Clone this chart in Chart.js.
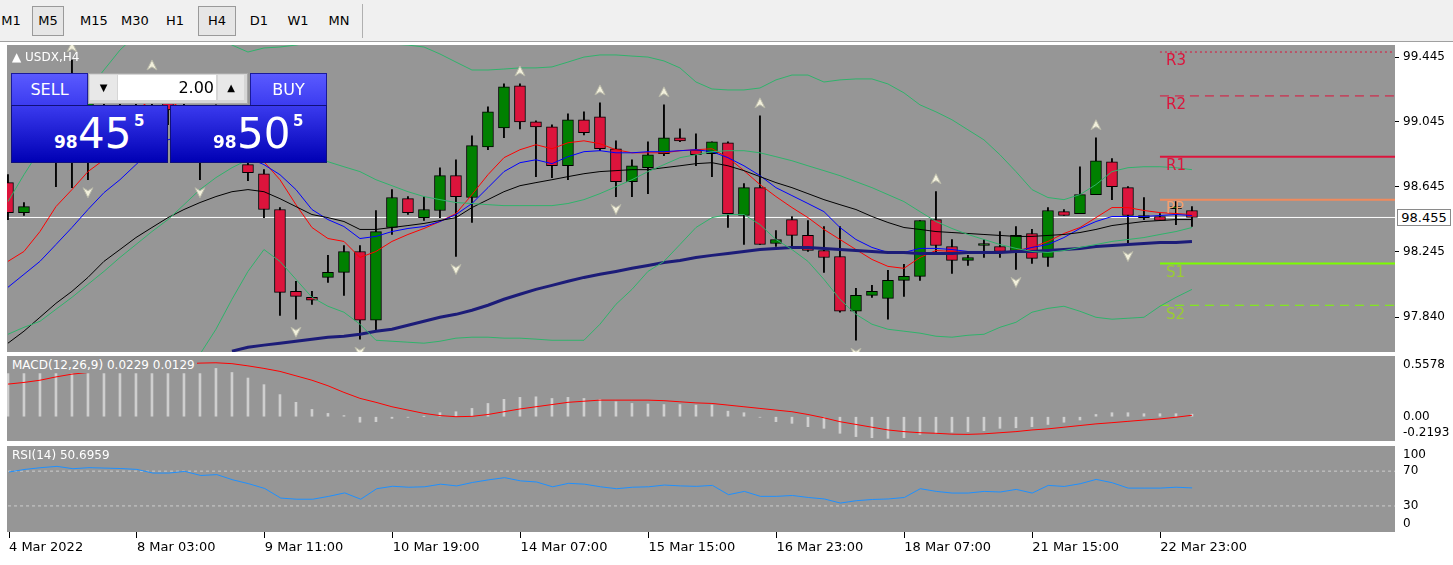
<!DOCTYPE html>
<html><head><meta charset="utf-8">
<script src="https://cdn.jsdelivr.net/npm/chart.js@4.4.1/dist/chart.umd.min.js"></script>
<style>
body{margin:0;width:1453px;height:565px;background:#fff;overflow:hidden;font-family:"DejaVu Sans",sans-serif;position:relative}
.abs{position:absolute}
.tb{position:absolute;top:0;left:0;width:1453px;height:41px;background:#f0f0f0;border-bottom:1px solid #a0a0a0}
.btn{position:absolute;top:9px;height:24px;line-height:24px;font-size:13px;color:#000;text-align:center}
.pressed{border:1px solid #9a9a9a;background:#e6e6e6;top:6px;height:28px;line-height:28px}
.panel{position:absolute;left:7px;width:1388px;background:#969696}
.lbl{position:absolute;color:#fff;font-size:12px;white-space:nowrap}
.blue1{position:absolute;background:linear-gradient(#5a5aff,#3c3cf0);color:#fff;font-size:16px;text-align:center;border:1px solid #1a1a9a}
.blue2{position:absolute;background:linear-gradient(#3a3aee,#0000b4);color:#fff;border:1px solid #10107a}
canvas{position:absolute}
</style></head>
<body>
<div class="tb">
 <div class="btn" style="left:0;width:22px">M1</div>
 <div class="btn pressed" style="left:32px;width:30px">M5</div>
 <div class="btn" style="left:76px;width:36px">M15</div>
 <div class="btn" style="left:116px;width:38px">M30</div>
 <div class="btn" style="left:162px;width:26px">H1</div>
 <div class="btn pressed" style="left:198px;width:36px">H4</div>
 <div class="btn" style="left:246px;width:26px">D1</div>
 <div class="btn" style="left:284px;width:28px">W1</div>
 <div class="btn" style="left:324px;width:30px">MN</div>
 <div class="abs" style="left:362px;top:4px;width:1px;height:34px;background:#b0b0b0"></div>
</div>
<div class="panel" style="top:45px;height:307px"></div>
<div class="panel" style="top:356px;height:85px"></div>
<div class="panel" style="top:446px;height:86px"></div>
<canvas id="cMain" width="1446" height="307" style="left:7px;top:45px"></canvas>
<canvas id="cMacd" width="1446" height="86" style="left:7px;top:355px"></canvas>
<canvas id="cRsi" width="1446" height="115" style="left:7px;top:445px"></canvas>

<div class="lbl" style="left:12px;top:50px">&#9650; USDX,H4</div>
<div class="lbl" style="left:10px;top:357px;background:#969696;padding:0 2px;height:16px;line-height:16px">MACD(12,26,9) 0.0229 0.0129</div>
<div class="lbl" style="left:10px;top:447px;padding:0 2px;height:16px;line-height:16px">RSI(14) 50.6959</div>
<div class="abs" style="left:1397px;top:209px;width:52px;height:15px;border:1px solid #8a8a8a;background:#fff;font-size:13px;line-height:15px;text-align:center">98.455</div>

<!-- trade widget -->
<div class="blue1" style="left:11px;top:73px;width:75px;height:31px;line-height:31px">SELL</div>
<div class="abs" style="left:88px;top:73px;width:158px;height:29px;background:#d6d6d6;border:1px solid #a8a8a8"></div>
<div class="abs" style="left:90px;top:75px;width:27px;height:25px;background:#e8e8e8;font-size:10px;text-align:center;line-height:25px">&#9660;</div>
<div class="abs" style="left:118px;top:75px;width:96px;height:25px;background:#fff;font-size:16px;line-height:25px;text-align:right;padding-right:2px">2.00</div>
<div class="abs" style="left:218px;top:75px;width:26px;height:25px;background:#e8e8e8;font-size:10px;text-align:center;line-height:25px">&#9650;</div>
<div class="blue1" style="left:250px;top:73px;width:75px;height:31px;line-height:31px">BUY</div>
<div class="blue2" style="left:11px;top:105px;width:155px;height:56px">
 <span class="abs" style="left:42px;top:26px;font-size:17px;font-weight:bold">98</span>
 <span class="abs" style="left:66px;top:3px;font-size:42px">45</span>
 <span class="abs" style="left:122px;top:6px;font-size:15px;font-weight:bold">5</span>
</div>
<div class="blue2" style="left:170px;top:105px;width:155px;height:56px">
 <span class="abs" style="left:42px;top:26px;font-size:17px;font-weight:bold">98</span>
 <span class="abs" style="left:66px;top:3px;font-size:42px">50</span>
 <span class="abs" style="left:122px;top:6px;font-size:15px;font-weight:bold">5</span>
</div>

<script>
// ---------- DATA ----------
const opens  = [98.670,98.485,98.873,99.058,99.119,99.027,99.181,99.242,99.181,99.230,99.211,99.119,98.996,99.058,98.934,98.781,98.725,98.504,97.999,97.962,98.085,98.116,98.245,97.821,98.393,98.571,98.454,98.498,98.713,98.578,98.891,99.008,99.267,99.045,99.014,98.774,99.058,99.076,98.879,98.676,98.762,98.848,98.947,98.873,98.848,98.916,98.467,98.639,98.294,98.442,98.344,98.251,98.214,97.876,97.974,97.956,98.067,98.091,98.442,98.276,98.190,98.282,98.276,98.245,98.356,98.208,98.491,98.479,98.596,98.799,98.639,98.454,98.461,98.510,98.498];
const highs  = [98.719,98.547,99.027,99.150,99.427,99.211,99.273,99.304,99.273,99.316,99.254,99.181,99.119,99.150,99.058,98.811,98.750,98.516,98.061,97.999,98.221,98.282,98.282,98.498,98.627,98.584,98.584,98.762,98.811,98.959,99.138,99.279,99.279,99.051,99.027,99.094,99.107,99.162,98.928,98.811,98.922,99.150,99.002,98.971,98.922,98.922,98.664,99.082,98.374,98.461,98.436,98.399,98.399,98.017,98.036,98.128,98.165,98.436,98.614,98.319,98.221,98.319,98.368,98.399,98.381,98.516,98.504,98.768,98.947,98.818,98.645,98.578,98.479,98.553,98.522];
const lows   = [98.442,98.467,98.811,98.645,98.639,98.688,99.058,99.119,99.058,99.119,99.027,98.934,98.688,98.873,98.824,98.682,98.454,97.851,97.827,97.919,98.054,97.974,97.704,97.759,98.350,98.473,98.436,98.454,98.214,98.424,98.873,98.947,99.002,98.707,98.701,98.688,98.965,98.867,98.584,98.584,98.602,98.836,98.922,98.774,98.707,98.393,98.288,98.288,98.276,98.276,98.245,98.116,97.870,97.697,97.962,97.827,97.968,98.067,98.239,98.110,98.159,98.208,98.208,98.134,98.171,98.153,98.467,98.479,98.596,98.565,98.294,98.442,98.436,98.411,98.399];
const closes = [98.485,98.522,99.058,99.119,99.027,99.181,99.242,99.181,99.230,99.211,99.119,98.996,99.058,98.934,98.873,98.731,98.504,97.993,97.968,97.944,98.116,98.245,97.821,98.368,98.578,98.485,98.504,98.713,98.584,98.898,99.107,99.261,99.045,99.014,98.774,99.058,98.978,98.879,98.676,98.774,98.842,98.947,98.928,98.842,98.922,98.479,98.639,98.288,98.319,98.344,98.251,98.208,97.876,97.974,97.999,98.067,98.091,98.436,98.282,98.190,98.208,98.283,98.245,98.344,98.202,98.498,98.467,98.596,98.805,98.645,98.467,98.467,98.436,98.522,98.455];

const maFast = [98.184,98.245,98.368,98.522,98.627,98.738,98.811,98.934,99.119,99.181,99.181,99.119,99.027,98.965,98.904,98.842,98.799,98.688,98.534,98.393,98.325,98.307,98.208,98.245,98.307,98.350,98.387,98.430,98.479,98.596,98.719,98.824,98.873,98.904,98.879,98.916,98.928,98.910,98.873,98.854,98.854,98.854,98.867,98.873,98.879,98.824,98.744,98.658,98.584,98.516,98.454,98.381,98.319,98.257,98.196,98.153,98.141,98.208,98.251,98.245,98.239,98.239,98.239,98.251,98.270,98.307,98.356,98.393,98.454,98.516,98.516,98.498,98.485,98.479,98.473];
const maMid  = [98.024,98.104,98.184,98.288,98.393,98.504,98.608,98.688,98.781,98.873,98.934,98.965,98.965,98.934,98.885,98.824,98.781,98.719,98.627,98.504,98.442,98.399,98.325,98.338,98.368,98.387,98.399,98.430,98.473,98.541,98.639,98.738,98.793,98.811,98.787,98.830,98.861,98.867,98.854,98.854,98.861,98.861,98.867,98.873,98.861,98.824,98.774,98.713,98.639,98.590,98.541,98.491,98.393,98.319,98.270,98.239,98.239,98.264,98.264,98.257,98.245,98.245,98.245,98.245,98.270,98.288,98.331,98.387,98.430,98.461,98.461,98.461,98.467,98.473,98.467];
const maSlow = [97.679,97.753,97.839,97.925,97.999,98.085,98.184,98.257,98.331,98.393,98.454,98.504,98.547,98.584,98.614,98.627,98.614,98.571,98.522,98.473,98.454,98.430,98.381,98.381,98.393,98.405,98.418,98.436,98.454,98.516,98.565,98.614,98.651,98.670,98.688,98.707,98.725,98.738,98.744,98.750,98.750,98.762,98.774,98.787,98.793,98.774,98.744,98.707,98.670,98.639,98.602,98.565,98.534,98.504,98.461,98.424,98.393,98.381,98.368,98.362,98.356,98.350,98.344,98.338,98.338,98.344,98.350,98.362,98.381,98.405,98.418,98.430,98.436,98.442,98.442];
const maLong = [null,null,null,null,null,null,null,null,null,null,null,null,null,null,97.630,97.654,97.667,97.679,97.691,97.704,97.716,97.722,97.734,97.753,97.765,97.790,97.814,97.839,97.857,97.882,97.913,97.950,97.981,98.011,98.036,98.061,98.085,98.104,98.122,98.141,98.159,98.177,98.190,98.208,98.221,98.233,98.245,98.257,98.264,98.270,98.270,98.264,98.257,98.251,98.245,98.239,98.239,98.233,98.233,98.233,98.239,98.239,98.239,98.245,98.245,98.251,98.257,98.264,98.276,98.282,98.288,98.294,98.301,98.301,98.307];
const bbUpper = [98.553,98.719,98.873,98.996,99.107,99.242,99.365,99.488,99.581,99.642,99.673,99.673,99.642,99.581,99.519,99.476,99.501,99.507,99.519,99.538,99.562,99.574,99.550,99.531,99.525,99.519,99.507,99.464,99.414,99.365,99.365,99.371,99.378,99.378,99.384,99.414,99.445,99.458,99.458,99.451,99.445,99.421,99.378,99.291,99.248,99.242,99.242,99.254,99.304,99.334,99.334,99.291,99.304,99.310,99.310,99.279,99.224,99.150,99.107,99.058,98.996,98.934,98.842,98.738,98.627,98.578,98.565,98.596,98.658,98.738,98.762,98.768,98.768,98.762,98.750];
const bbMiddle = [97.734,97.777,97.814,97.888,97.962,98.042,98.122,98.208,98.288,98.368,98.442,98.534,98.627,98.701,98.762,98.811,98.842,98.861,98.861,98.836,98.799,98.768,98.738,98.688,98.651,98.614,98.584,98.565,98.547,98.541,98.534,98.528,98.528,98.528,98.528,98.541,98.565,98.602,98.645,98.688,98.738,98.781,98.824,98.842,98.861,98.867,98.867,98.854,98.830,98.805,98.774,98.744,98.713,98.676,98.639,98.596,98.553,98.491,98.430,98.387,98.350,98.319,98.288,98.264,98.245,98.239,98.251,98.270,98.288,98.307,98.319,98.331,98.350,98.368,98.393];
const bbLower = [null,null,null,null,null,null,null,null,null,null,97.334,97.457,97.611,97.765,97.950,98.122,98.257,98.184,98.073,97.962,97.907,97.870,97.796,97.697,97.691,97.685,97.679,97.691,97.710,97.716,97.716,97.710,97.710,97.704,97.697,97.697,97.697,97.796,97.919,98.011,98.122,98.184,98.288,98.393,98.454,98.473,98.473,98.411,98.319,98.257,98.184,98.073,97.950,97.857,97.796,97.765,97.753,97.741,97.722,97.716,97.728,97.734,97.777,97.808,97.870,97.894,97.907,97.876,97.839,97.827,97.833,97.839,97.907,97.962,98.011];

const fractalUp = [4,9,32,37,41,47,58,68];
const fractalDown = [5,12,18,22,28,38,53,63,70];

const pivotNames  = ['R3','R2','R1','PP','S1','S2'];
const pivotValues = [99.476,99.205,98.830,98.565,98.171,97.913];
const pivotStart = 72;
const lastPrice = 98.455;

const macdMain = [0.39,0.39,0.39,0.39,0.39,0.39,0.39,0.39,0.39,0.39,0.39,0.39,0.39,0.437,0.40,0.35,0.29,0.20,0.13,0.066,0.03,0.01,-0.05,-0.045,-0.015,-0.005,0.002,0.036,0.045,0.075,0.12,0.157,0.175,0.18,0.165,0.175,0.165,0.157,0.135,0.12,0.115,0.11,0.11,0.105,0.105,0.05,0.036,-0.005,-0.045,-0.06,-0.09,-0.105,-0.15,-0.18,-0.19,-0.196,-0.19,-0.16,-0.15,-0.14,-0.135,-0.126,-0.105,-0.1,-0.09,-0.07,-0.05,-0.03,0.02,0.036,0.036,0.027,0.027,0.027,0.023];
const macdSignal = [0.295,0.31,0.33,0.36,0.385,0.40,0.42,0.435,0.45,0.46,0.47,0.478,0.485,0.488,0.48,0.46,0.437,0.41,0.37,0.33,0.28,0.22,0.166,0.13,0.09,0.06,0.03,0.01,0.0,0.003,0.02,0.045,0.07,0.09,0.11,0.13,0.14,0.15,0.15,0.15,0.15,0.145,0.135,0.125,0.12,0.105,0.09,0.075,0.06,0.045,0.02,-0.01,-0.045,-0.07,-0.095,-0.12,-0.135,-0.145,-0.15,-0.158,-0.16,-0.155,-0.145,-0.135,-0.12,-0.11,-0.095,-0.08,-0.065,-0.054,-0.042,-0.03,-0.02,-0.005,0.013];
const macdRange = [-0.2193, 0.5578];
const macdTickVals = [0.467, 0.0, -0.147];
const macdTickLabels = ['0.5578','0.00','-0.2193'];

const rsi = [69,72,74,75.5,72.8,74,73.5,73,72,67.8,67.8,69.7,65,66,60,55.5,50,39,37.7,37.7,41,45,37.7,49.8,52.6,51.5,52,55,53,57,60,62.5,58.8,57.5,52,56,55,52,49.8,51.5,52,54,53,52.5,53.6,42.9,46.7,41,41,42,39.7,38,33.3,36,37.4,38,39.7,49.8,46.7,44.8,44.8,46.7,46,49,44.8,53.6,52.4,55.5,60.5,56.7,50.5,50.5,50.5,51.5,50.7];
const rsiLevels = [70, 30];
const rsiTickVals = [88.5, 70, 30, 9];
const rsiTickLabels = ['100','70','30','0'];

const priceTicks = [99.445, 99.045, 98.645, 98.245, 97.840];
const timeTickIdx = [0,8,16,24,32,40,48,56,64,72];
const timeLabels = ['4 Mar 2022','8 Mar 03:00','9 Mar 11:00','10 Mar 19:00','14 Mar 07:00','15 Mar 15:00','16 Mar 23:00','18 Mar 07:00','21 Mar 15:00','22 Mar 23:00'];

// ---------- CHARTS ----------
const XMIN = -0.06, XMAX = 86.69;
const FONT = {family:'DejaVu Sans', size:12, lineHeight:0.01};
const ser = a => a.map((v,i)=>({x:i,y:v}));
const line = (a,c,w,extra) => Object.assign({type:'line',data:ser(a),borderColor:c,borderWidth:w,pointRadius:0,pointHoverRadius:0,tension:0,order:0,spanGaps:false},extra||{});
const yRight = (extra) => Object.assign({position:'right',afterFit:s=>{s.width=58;},
  border:{display:false},
  grid:{drawOnChartArea:false,tickLength:4,color:'#000'},
  ticks:{color:'#000',font:FONT,padding:4}},extra);
const xHidden = {type:'linear',min:XMIN,max:XMAX,display:false,offset:false};
const LAYOUT = {padding:0, autoPadding:false};
const BASE = {responsive:false,maintainAspectRatio:false,animation:false,devicePixelRatio:1,events:[],layout:LAYOUT,
  plugins:{legend:{display:false},tooltip:{enabled:false}}};

// place a chart so that its plot area covers exactly the given panel rectangle
function fitPanel(ch, top, h){
  for(let k=0;k<3;k++){
    const extra = ch.height - ch.chartArea.height;
    ch.resize(1446, Math.round(h + extra));
  }
  ch.canvas.style.top = (top - Math.round(ch.chartArea.top)) + 'px';
}

const idx = opens.map((_,i)=>i);
const pivotColors = ['#dc143c','#dc143c','#dc143c','#f08a5d','#7cfc00','#7cfc00'];
const pivotLabelColors = ['#dc143c','#dc143c','#dc143c','#f4a070','#9acd32','#9acd32'];
const pivotDash = [[2,3],[9,6],[],[],[],[9,6]];
const pivotWidth = [1,1,2,2,2,1];

const pivotSets = pivotValues.map((v,k)=>({type:'line',data:[{x:pivotStart,y:v},{x:XMAX,y:v}],borderColor:pivotColors[k],borderWidth:pivotWidth[k],borderDash:pivotDash[k],pointRadius:0,pointHoverRadius:0,order:1}));

const mainPlugin = {
  id:'mainExtras',
  afterDatasetsDraw(ch){
    const c=ch.ctx, xs=ch.scales.x, ys=ch.scales.y, a=ch.chartArea;
    c.save();
    c.beginPath(); c.rect(a.left,a.top,a.right-a.left,a.bottom-a.top); c.clip();
    const arrow=(i,up)=>{
      const x=xs.getPixelForValue(i);
      const y= up ? ys.getPixelForValue(highs[i])-8 : ys.getPixelForValue(lows[i])+8;
      c.beginPath();
      if(up){c.moveTo(x,y-10);c.lineTo(x-5,y);c.lineTo(x,y-3);c.lineTo(x+5,y);}
      else {c.moveTo(x,y+10);c.lineTo(x-5,y);c.lineTo(x,y+3);c.lineTo(x+5,y);}
      c.closePath(); c.fillStyle='#f2f0dc'; c.fill(); c.strokeStyle='#b8b8a8'; c.lineWidth=1; c.stroke();
    };
    fractalUp.forEach(i=>arrow(i,true));
    fractalDown.forEach(i=>arrow(i,false));
    c.font='15px "DejaVu Sans"'; c.textBaseline='top'; c.textAlign='left';
    pivotNames.forEach((n,k)=>{
      c.fillStyle=pivotLabelColors[k];
      c.fillText(n, xs.getPixelForValue(pivotStart)+6, ys.getPixelForValue(pivotValues[k])+2);
    });
    c.restore();
  }
};

const chMain = new Chart(document.getElementById('cMain'),{
  type:'bar',
  data:{datasets:[
    line(bbUpper,'#2fb36b',1),
    line(bbMiddle,'#2fb36b',1),
    line(bbLower,'#2fb36b',1),
    line(maLong,'#1c1c78',3),
    line(maSlow,'#000000',1),
    line(maMid,'#0000ff',1),
    line(maFast,'#ff0000',1),
    ...pivotSets,
    {type:'line',data:[{x:XMIN,y:lastPrice},{x:XMAX,y:lastPrice}],borderColor:'#ffffff',borderWidth:1,pointRadius:0,pointHoverRadius:0,order:4},
    {type:'bar',data:idx.map(i=>({x:i,y:[lows[i],highs[i]]})),backgroundColor:'#000',barThickness:1.2,grouped:false,order:3},
    {type:'bar',data:idx.map(i=>({x:i,y:[opens[i],closes[i]]})),
      backgroundColor:idx.map(i=>closes[i]>=opens[i]?'#008000':'#dc143c'),
      borderColor:'#000',borderWidth:1,borderSkipped:false,barThickness:11,minBarLength:2,grouped:false,order:2}
  ]},
  options:Object.assign({},BASE,{
    scales:{
      x:xHidden,
      y:yRight({min:97.625,max:99.519,afterBuildTicks:s=>{s.ticks=priceTicks.map(v=>({value:v}));},
        ticks:{color:'#000',font:FONT,padding:4,callback:v=>v.toFixed(3)}})
    }}),
  plugins:[mainPlugin]
});
fitPanel(chMain, 45, 307);

const chMacd = new Chart(document.getElementById('cMacd'),{
  type:'bar',
  data:{datasets:[
    {type:'bar',data:ser(macdMain),backgroundColor:'#cfcfcf',barThickness:2,grouped:false,order:2},
    line(macdSignal,'#ff0000',1)
  ]},
  options:Object.assign({},BASE,{
    scales:{
      x:xHidden,
      y:yRight({min:macdRange[0],max:macdRange[1],
        afterBuildTicks:s=>{s.ticks=macdTickVals.map(v=>({value:v}));},
        grid:{drawOnChartArea:false,drawTicks:false},
        ticks:{color:'#000',font:FONT,padding:8,callback:(v,i)=>macdTickLabels[i]}})
    }})
});
fitPanel(chMacd, 355, 86);

const chRsi = new Chart(document.getElementById('cRsi'),{
  type:'line',
  data:{datasets:[
    line(rsi,'#1e90ff',1),
    ...rsiLevels.map(l=>({type:'line',data:[{x:XMIN,y:l},{x:XMAX,y:l}],borderColor:'#cdcdcd',borderWidth:1,borderDash:[3,3],pointRadius:0,pointHoverRadius:0,order:1}))
  ]},
  options:Object.assign({},BASE,{
    scales:{
      x:{type:'linear',min:XMIN,max:XMAX,offset:false,position:'bottom',
        afterFit:s=>{s.height=28;},
        border:{display:false},
        afterBuildTicks:s=>{s.ticks=timeTickIdx.map(v=>({value:v}));},
        grid:{drawOnChartArea:false,tickLength:6,color:'#000'},
        ticks:{color:'#000',font:{family:'DejaVu Sans',size:13},align:'start',padding:2,maxRotation:0,autoSkip:false,
          callback:(v,i)=>timeLabels[i]}},
      y:yRight({min:0,max:100,
        afterBuildTicks:s=>{s.ticks=rsiTickVals.map(v=>({value:v}));},
        grid:{drawOnChartArea:false,drawTicks:false},
        ticks:{color:'#000',font:FONT,padding:8,callback:(v,i)=>rsiTickLabels[i]}})
    }})
});
fitPanel(chRsi, 445, 87);
</script>
</body></html>
